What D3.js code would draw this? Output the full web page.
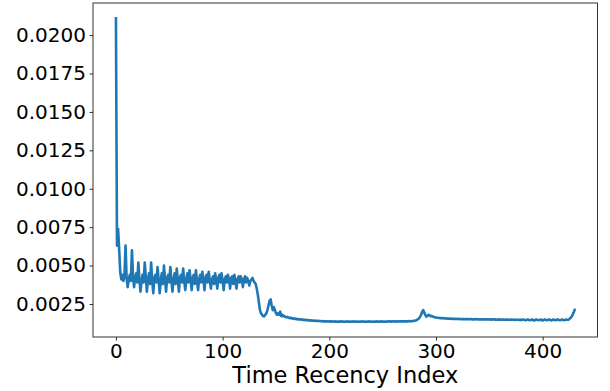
<!DOCTYPE html>
<html><head><meta charset="utf-8">
<script src="https://cdn.jsdelivr.net/npm/d3@7"></script>
<style>
html,body{margin:0;padding:0;background:#fff;}
svg text{font-family:"DejaVu Sans",sans-serif;}
</style></head>
<body><svg id="c" width="610" height="391"></svg>
<script>
const xTicks = [0, 100, 200, 300, 400];
const yTicks = [0.0025, 0.0050, 0.0075, 0.0100, 0.0125, 0.0150, 0.0175, 0.0200];
const xLabel = "Time Recency Index";
const values = [
0.0211,0.0063,0.0074,0.0061,0.0046,0.0041,0.0044,0.0040,0.0043,0.0063,
0.0042,0.0036,0.0041,0.0044,0.0040,0.0060,0.0043,0.0036,0.0042,0.0045,
0.0039,0.0052,0.0041,0.0033,0.0040,0.0044,0.0039,0.0052,0.0042,0.0033,
0.0041,0.0045,0.0038,0.0052,0.0040,0.0032,0.0042,0.0044,0.0039,0.0049,
0.0041,0.0032,0.0040,0.0045,0.0038,0.0050,0.0041,0.0033,0.0042,0.0044,
0.0039,0.0049,0.0040,0.0033,0.0041,0.0045,0.0038,0.0048,0.0041,0.0033,
0.0042,0.0044,0.0039,0.0048,0.0040,0.0034,0.0041,0.0045,0.0039,0.0047,
0.0041,0.0034,0.0042,0.0044,0.0038,0.0047,0.0040,0.0034,0.0041,0.0044,
0.0039,0.0046,0.0041,0.0034,0.0042,0.0044,0.0039,0.0046,0.0040,0.0035,
0.0041,0.0043,0.0038,0.0045,0.0041,0.0035,0.0042,0.0044,0.0039,0.0045,
0.0040,0.0034,0.0041,0.0043,0.0039,0.0044,0.0041,0.0035,0.0042,0.0043,
0.0038,0.0044,0.0040,0.0035,0.0041,0.0043,0.0039,0.0043,0.0041,0.0036,
0.0041,0.0043,0.0039,0.0042,0.0040,0.0037,0.0040,0.0041,0.0042,0.0040,
0.0039,0.0038,0.0035,0.0031,0.0026,0.0021,0.0019,0.0018,0.0017,0.0017,
0.0018,0.0019,0.0021,0.0024,0.0027,0.0028,0.0024,0.0021,0.0023,0.0021,
0.0019,0.0018,0.0019,0.0018,0.0020,0.0017,0.0018,0.0017,0.00172,0.00165,
0.00163,0.00166,0.00160,0.00158,0.00161,0.00155,0.00157,0.00153,0.00155,0.00151,
0.00153,0.00149,0.00151,0.00148,0.00150,0.00146,0.00148,0.00145,0.00147,0.00144,
0.00146,0.00143,0.00144,0.00142,0.00143,0.00141,0.00142,0.00140,0.00141,0.00139,
0.00140,0.00139,0.00138,0.00139,0.00137,0.00138,0.00137,0.00136,0.00138,0.00136,
0.00137,0.00135,0.00137,0.00136,0.00135,0.00137,0.00135,0.00136,0.00134,0.00136,
0.00135,0.00137,0.00135,0.00136,0.00134,0.00136,0.00135,0.00137,0.00135,0.00136,
0.00134,0.00136,0.00135,0.00137,0.00135,0.00136,0.00134,0.00136,0.00135,0.00136,
0.00135,0.00137,0.00135,0.00136,0.00134,0.00136,0.00135,0.00137,0.00135,0.00136,
0.00135,0.00136,0.00134,0.00136,0.00135,0.00137,0.00135,0.00136,0.00135,0.00137,
0.00135,0.00136,0.00134,0.00136,0.00135,0.00137,0.00136,0.00137,0.00135,0.00137,
0.00136,0.00137,0.00135,0.00137,0.00136,0.00138,0.00136,0.00137,0.00136,0.00138,
0.00137,0.00138,0.00136,0.00138,0.00137,0.00139,0.00137,0.00138,0.00139,0.00140,
0.00141,0.00143,0.00146,0.00150,0.00156,0.00165,0.00180,0.00198,0.00210,0.00195,
0.00178,0.00168,0.00172,0.00180,0.00176,0.00170,0.00173,0.00168,0.00166,0.00163,
0.00162,0.00160,0.00161,0.00159,0.00158,0.00159,0.00157,0.00158,0.00156,0.00157,
0.00155,0.00156,0.00155,0.00154,0.00155,0.00153,0.00154,0.00153,0.00154,0.00152,
0.00153,0.00152,0.00153,0.00151,0.00152,0.00151,0.00153,0.00151,0.00152,0.00150,
0.00152,0.00151,0.00150,0.00152,0.00150,0.00151,0.00150,0.00152,0.00150,0.00151,
0.00149,0.00151,0.00150,0.00151,0.00149,0.00150,0.00149,0.00151,0.00149,0.00150,
0.00149,0.00150,0.00148,0.00150,0.00149,0.00150,0.00148,0.00149,0.00148,0.00150,
0.00148,0.00149,0.00147,0.00149,0.00148,0.00149,0.00147,0.00149,0.00147,0.00148,
0.00147,0.00149,0.00147,0.00148,0.00146,0.00148,0.00147,0.00148,0.00146,0.00148,
0.00145,0.00148,0.00149,0.00146,0.00144,0.00147,0.00149,0.00146,0.00144,0.00147,
0.00149,0.00146,0.00143,0.00146,0.00149,0.00147,0.00144,0.00146,0.00149,0.00146,
0.00143,0.00146,0.00149,0.00147,0.00144,0.00146,0.00150,0.00147,0.00143,0.00146,
0.00149,0.00147,0.00144,0.00146,0.00150,0.00147,0.00144,0.00146,0.00149,0.00147,
0.00144,0.00146,0.00149,0.00148,0.00147,
0.00152,0.00158,0.00166,0.00178,0.00194,0.00212
];

const svg = d3.select("#c");
const L = 93, R = 597.6, T = 3, B = 337;
const n = values.length - 1;
const xPad = n * 0.05;
const x = d3.scaleLinear().domain([-xPad, n + xPad]).range([L, R]);
const yMin = d3.min(values), yMax = d3.max(values);
const yPad = (yMax - yMin) * 0.05;
const y = d3.scaleLinear().domain([yMin - yPad, yMax + yPad]).range([B, T]);

const line = d3.line().x((d, i) => x(i)).y(d => y(d));
svg.append("path").datum(values)
  .attr("d", line).attr("fill", "none")
  .attr("stroke", "#1f77b4").attr("stroke-width", 2.6)
  .attr("stroke-linejoin", "round").attr("stroke-linecap", "square");

const xAxis = svg.append("g").attr("transform", `translate(0,${B})`)
  .call(d3.axisBottom(x).tickValues(xTicks).tickSize(3.5).tickPadding(3.5).tickFormat(d3.format("d")));
const yAxis = svg.append("g").attr("transform", `translate(${L},0)`)
  .call(d3.axisLeft(y).tickValues(yTicks).tickSize(3.5).tickPadding(3.5).tickFormat(d3.format(".4f")));
[xAxis, yAxis].forEach(g => {
  g.select(".domain").remove();
  g.selectAll(".tick line").attr("stroke", "#000").attr("stroke-width", 0.8);
  g.selectAll(".tick text").attr("fill", "#000").style("font-size", "20px").style("font-family", "DejaVu Sans");
});

svg.append("rect").attr("x", L).attr("y", T).attr("width", R - L).attr("height", B - T)
  .attr("fill", "none").attr("stroke", "#000").attr("stroke-width", 0.8);

svg.append("text").attr("x", (L + R) / 2).attr("y", 383)
  .attr("text-anchor", "middle").style("font-size", "22.5px").attr("fill", "#000").text(xLabel);
</script></body></html>
